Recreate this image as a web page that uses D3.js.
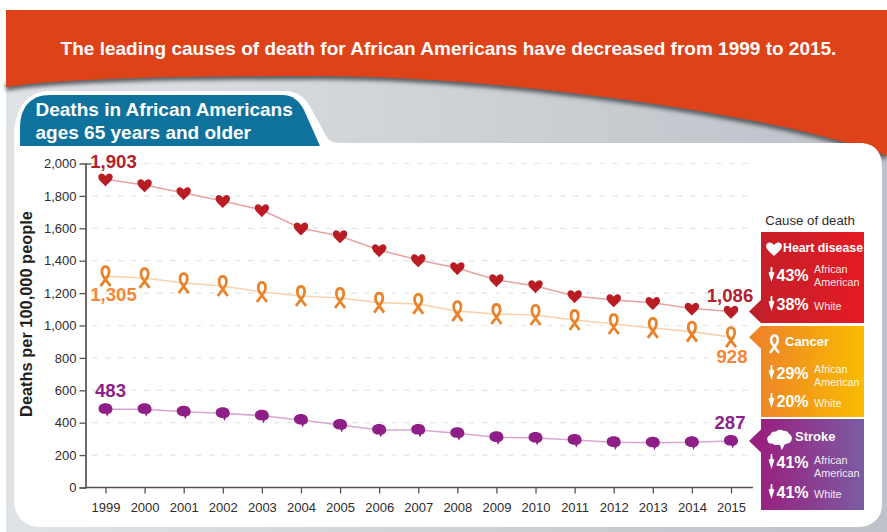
<!DOCTYPE html>
<html>
<head>
<meta charset="utf-8">
<script src="https://cdn.jsdelivr.net/npm/d3@7"></script>
<style>
  html, body { margin: 0; padding: 0; background: #fff; }
  svg { display: block; }
  text { font-family: "Liberation Sans", Arial, sans-serif; }
</style>
</head>
<body>
<svg id="chart" width="887" height="532"></svg>
<script>
// Death rates per 100,000 people, African Americans aged 65 and older
const years = [1999, 2000, 2001, 2002, 2003, 2004, 2005, 2006, 2007, 2008, 2009, 2010, 2011, 2012, 2013, 2014, 2015];
const heartDisease = [1903, 1867, 1818, 1769, 1713, 1600, 1552, 1466, 1404, 1355, 1281, 1244, 1182, 1157, 1140, 1105, 1086];
const cancer = [1305, 1293, 1262, 1244, 1207, 1182, 1170, 1141, 1133, 1089, 1071, 1065, 1034, 1009, 985, 962, 928];
const stroke = [483, 483, 468, 458, 443, 417, 386, 355, 355, 335, 310, 306, 293, 279, 277, 279, 287];
const yTicks = [0, 200, 400, 600, 800, 1000, 1200, 1400, 1600, 1800, 2000];

const headline = "The leading causes of death for African Americans have decreased from 1999 to 2015.";
const tabLines = ["Deaths in African Americans", "ages 65 years and older"];
const yTitle = "Deaths per 100,000 people";
const legendTitle = "Cause of death";
const causes = ["Heart disease", "Cancer", "Stroke"];
const dropAfricanAmerican = ["43%", "29%", "41%"];
const dropWhite = ["38%", "20%", "41%"];

const fmt = d3.format(",");
const svg = d3.select("#chart");
const defs = svg.append("defs");

function hGradient(id, from, to) {
  const g = defs.append("linearGradient").attr("id", id);
  g.append("stop").attr("offset", "0%").attr("stop-color", from);
  g.append("stop").attr("offset", "100%").attr("stop-color", to);
}
hGradient("bgGrey", "#e0e3e6", "#bcc2c8");
hGradient("heartFill", "#c5202a", "#e41a24");
hGradient("cancerFill", "#ee8627", "#f9bc00");
hGradient("strokeFill", "#98217f", "#7b5ca2");
defs.append("filter").attr("id", "soft")
  .attr("x", "-5%").attr("y", "-20%").attr("width", "110%").attr("height", "140%")
  .append("feGaussianBlur").attr("stdDeviation", 2.2);

// Backdrop: grey page, shaded seam and the curved orange banner
const bannerEdge = "M6,87 C70,77 200,76 320,76 C450,76 620,95 760,122 C810,132 860,145 887,156";
svg.append("rect").attr("x", 6).attr("y", 60).attr("width", 881).attr("height", 472).attr("fill", "url(#bgGrey)");
svg.append("path").attr("d", bannerEdge).attr("fill", "none")
  .attr("stroke", "#565a5f").attr("stroke-width", 7).attr("filter", "url(#soft)");
svg.append("path").attr("d", bannerEdge + " V10 H6 Z").attr("fill", "#de4218");
svg.append("text").attr("x", 448.5).attr("y", 55).attr("text-anchor", "middle")
  .attr("font-size", 19).attr("font-weight", "bold").attr("fill", "#fff").text(headline);

// White panel with its tab rising on the left
svg.append("path")
  .attr("d", "M14,140 C14,112 24,91 50,91 L284,91 C298,91 306,98 312,110 L325,134 C328,140 332,143 340,143 L860,143 C874,143 882,152 882,166 L882,505 C882,518 872,527 858,527 L40,527 C24,527 14,516 14,500 Z")
  .attr("fill", "#fff");
svg.append("path")
  .attr("d", "M20,146 L20,128 C20,108 30,95 50,95 L282,95 C293,95 299,101 304,110 L320,146 Z")
  .attr("fill", "#0e729c");
svg.append("g").selectAll("text").data(tabLines).join("text")
  .attr("x", 35.5).attr("y", (d, i) => 116 + i * 23)
  .attr("font-size", 19).attr("font-weight", "bold").attr("fill", "#fff").text(d => d);

// Scales and axes
const x = d3.scalePoint().domain(years).range([105.5, 731]);
const y = d3.scaleLinear().domain([0, 2000]).range([487.5, 163.5]);
const inkAxis = "#5b504b", inkText = "#2f2c2b";

svg.append("g").selectAll("line").data(yTicks.filter(d => d > 0)).join("line")
  .attr("x1", 92).attr("x2", 752).attr("y1", d => y(d)).attr("y2", d => y(d))
  .attr("stroke", "#e3e5e7").attr("stroke-width", 1.2).attr("stroke-dasharray", "5.5 7.5");

const yAxis = svg.append("g").attr("transform", "translate(85.5,0)")
  .call(d3.axisLeft(y).tickValues(yTicks).tickFormat(fmt).tickSize(6).tickPadding(3));
const xAxis = svg.append("g").attr("transform", "translate(0,487.5)")
  .call(d3.axisBottom(x).tickSize(6).tickPadding(9).tickSizeOuter(0));
xAxis.select(".domain").attr("d", "M85,0H753");
[yAxis, xAxis].forEach(a => {
  a.select(".domain").attr("stroke", inkAxis).attr("stroke-width", 1.7);
  a.selectAll(".tick line").attr("stroke", inkAxis).attr("stroke-width", 1.3);
  a.selectAll("text").attr("font-size", 13).attr("fill", inkText)
    .style("font-family", '"Liberation Sans", Arial, sans-serif');
});
yAxis.selectAll(".tick").filter(d => d === 2000).select("line").attr("x2", 6);
svg.append("text").attr("transform", "translate(32,314) rotate(-90)").attr("text-anchor", "middle")
  .attr("font-size", 16.4).attr("font-weight", "bold").attr("fill", "#231f20").text(yTitle);

// Marker outlines, drawn around the origin
const heartShape = "M0,7.2 C-2.6,4.2 -7.2,1.4 -7.2,-2.4 C-7.2,-6.4 -2,-7.2 0,-3.2 C2,-7.2 7.2,-6.4 7.2,-2.4 C7.2,1.4 2.6,4.2 0,7.2 Z";
const ribbonShape = "M-5,10 L2.4,0 C4.8,-3.6 3.8,-9.5 0,-9.5 C-3.8,-9.5 -4.8,-3.6 -2.4,0 L5,10";
const brainShape = "M-7,-0.6 C-7,-4.6 -3.4,-6 0,-6 C4,-6 7,-4 7,0 C7,3.2 4.4,4.6 3,4.6 L1.6,7.6 L0.4,4.6 C-3,4.8 -7,3.4 -7,-0.6 Z";
const brainIcon = "M-12,1 C-13,-2 -11,-4 -9,-4.5 C-9,-7 -6,-8.5 -3.5,-7.8 C-2,-10 2,-10.2 3.5,-8.6 C6,-9.4 9,-8 9.5,-5.4 C12,-4.6 13,-1.6 12,0.6 C11.6,3 9.4,4.4 7,4 C6,5 5.4,5.4 4.6,5.4 C4.4,7 3.4,9 2,10.4 C1.6,8 1,6 -0.4,5 C-3,6 -6,5.4 -7.4,4 C-10,4.6 -11.6,3 -12,1 Z";

const seriesLine = d3.line().x((d, i) => x(years[i])).y(d => y(d));
const seriesDefs = [
  { values: heartDisease, line: "#e8a3a5", shape: heartShape, fill: "#b91c22", stroke: "none", sw: 0 },
  { values: cancer, line: "#f9d3ae", shape: ribbonShape, fill: "none", stroke: "#e8832b", sw: 2.8 },
  { values: stroke, line: "#d9a6d2", shape: brainShape, fill: "#8d1f86", stroke: "none", sw: 0 }
];
seriesDefs.forEach(s => {
  svg.append("path").attr("d", seriesLine(s.values)).attr("fill", "none")
    .attr("stroke", s.line).attr("stroke-width", 1.6);
  svg.append("g").selectAll("path").data(s.values).join("path")
    .attr("d", s.shape)
    .attr("transform", (d, i) => `translate(${x(years[i])},${y(d)})`)
    .attr("fill", s.fill).attr("stroke", s.stroke).attr("stroke-width", s.sw);
});

// Value callouts for the first and last year of each series
const last = years.length - 1;
const callouts = [
  { v: heartDisease[0], i: 0, dx: 8, dy: -11, c: "#b5202e" },
  { v: heartDisease[last], i: last, dx: -1, dy: -10, c: "#b5202e" },
  { v: cancer[0], i: 0, dx: 8, dy: 25, c: "#f58634" },
  { v: cancer[last], i: last, dx: 1, dy: 25.5, c: "#f58634" },
  { v: stroke[0], i: 0, dx: 5, dy: -12, c: "#8f1f88" },
  { v: stroke[last], i: last, dx: -1, dy: -12.5, c: "#8f1f88" }
];
svg.append("g").selectAll("text").data(callouts).join("text")
  .attr("x", d => x(years[d.i]) + d.dx).attr("y", d => y(d.v) + d.dy)
  .attr("text-anchor", "middle").attr("font-size", 18.6).attr("font-weight", "bold")
  .attr("fill", d => d.c).text(d => fmt(d.v));

// Legend: one coloured card per cause
svg.append("text").attr("x", 810).attr("y", 225).attr("text-anchor", "middle")
  .attr("font-size", 13.2).attr("fill", inkText).text(legendTitle);

const arrowShape = "M-0.8,0 H0.8 L1,5 L3,5.5 L0,15 L-3,5.5 L-1,5 Z";
const cards = [
  { top: 232, h: 91, tip: y(heartDisease[last]), fill: "url(#heartFill)", tipFill: "#bf1f29", nameX: 783, nameY: 252, nameSize: 12.3, pct1: 281, pct2: 310, aa: 273, wh: 310 },
  { top: 326, h: 91, tip: y(cancer[last]), fill: "url(#cancerFill)", tipFill: "#ee8627", nameX: 785, nameY: 346, nameSize: 13, pct1: 379, pct2: 407, aa: 373, wh: 407 },
  { top: 419, h: 91, tip: y(stroke[last]), fill: "url(#strokeFill)", tipFill: "#98217f", nameX: 795, nameY: 441, nameSize: 13, pct1: 468, pct2: 498, aa: 464, wh: 498 }
];
cards.forEach((c, i) => {
  const g = svg.append("g");
  g.append("path").attr("d", `M761.5,${c.tip - 12} L749,${c.tip} L761.5,${c.tip + 12} Z`).attr("fill", c.tipFill);
  g.append("rect").attr("x", 761).attr("y", c.top).attr("width", 103).attr("height", c.h).attr("fill", c.fill);
  g.append("text").attr("x", c.nameX).attr("y", c.nameY).attr("font-size", c.nameSize)
    .attr("font-weight", "bold").attr("fill", "#fff").text(causes[i]);
  [[c.pct1, dropAfricanAmerican[i]], [c.pct2, dropWhite[i]]].forEach(([base, label]) => {
    g.append("path").attr("d", arrowShape).attr("transform", `translate(771.5,${base - 14})`).attr("fill", "#fff");
    g.append("text").attr("x", 776.5).attr("y", base).attr("font-size", 16)
      .attr("font-weight", "bold").attr("fill", "#fff").text(label);
  });
  g.append("text").attr("x", 814).attr("y", c.aa).attr("font-size", 10.8).attr("fill", "#fff").attr("fill-opacity", 0.92).text("African");
  g.append("text").attr("x", 814).attr("y", c.aa + 13).attr("font-size", 10.8).attr("fill", "#fff").attr("fill-opacity", 0.92).text("American");
  g.append("text").attr("x", 814).attr("y", c.wh).attr("font-size", 10.8).attr("fill", "#fff").attr("fill-opacity", 0.92).text("White");
});

// White pictograms on the cards
svg.append("path").attr("d", heartShape).attr("transform", "translate(774,248.5) scale(1.1,1.05)").attr("fill", "#fff");
svg.append("path").attr("d", ribbonShape).attr("transform", "translate(774.5,344) scale(0.9)")
  .attr("fill", "none").attr("stroke", "#fff").attr("stroke-width", 2.8);
svg.append("path").attr("d", brainIcon).attr("transform", "translate(779.5,439.5)").attr("fill", "#fff");
</script>
</body>
</html>
